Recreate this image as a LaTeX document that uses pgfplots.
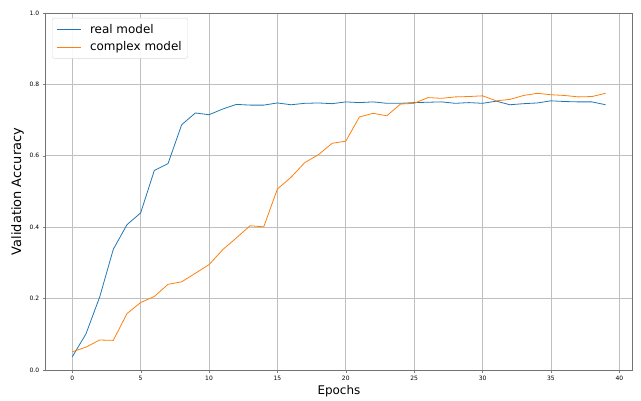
\documentclass[border=0pt]{standalone}
\usepackage{pgfplots}
\pgfplotsset{compat=1.18}
\usepackage{fontspec}
\setmainfont{DejaVu Sans}
\definecolor{c0}{HTML}{1F77B4}
\definecolor{c1}{HTML}{FF7F0E}
\begin{document}
\begin{tikzpicture}
\useasboundingbox (-45.6bp,-31bp) rectangle (595.4bp,370bp);
\begin{axis}[
  at={(0,0)}, anchor=south west,
  scale only axis, width=586.7bp, height=357bp,
  xmin=-1.95, xmax=40.95, ymin=0, ymax=1,
  xtick={0,5,...,40}, ytick={0,0.2,...,1.0},
  yticklabel style={/pgf/number format/.cd,fixed,fixed zerofill,precision=1},
  /pgf/number format/assume math mode=true,
  tick label style={font=\fontsize{6}{7}\selectfont},
  tick align=outside, tick pos=left,
  major tick length=3bp,
  grid=major, major grid style={color=black!25, line width=0.6pt},
  axis line style={color=black!55, line width=0.8pt},
  xlabel={Epochs}, ylabel={Validation Accuracy},
  xlabel style={font=\fontsize{12}{14}\selectfont, yshift=2bp},
  ylabel style={font=\fontsize{13}{15}\selectfont, yshift=-1bp},
  legend style={font=\fontsize{12}{14}\selectfont, draw=black!15, rounded corners=2pt, fill=white, fill opacity=0.9, text opacity=1, at={(0.011,0.986)}, anchor=north west, inner xsep=4bp, inner ysep=4bp, row sep=3bp},
  legend cell align=left,
  legend image code/.code={\draw[#1, line width=0.8pt] (0bp,0bp) -- (24bp,0bp); \path (31bp,0bp);},
  every axis plot/.append style={line width=0.8pt},
]
\addplot[c0, mark=none] coordinates {
(0,0.037)(1,0.101)(2,0.204)(3,0.338)(4,0.407)(5,0.440)(6,0.559)(7,0.578)(8,0.687)(9,0.720)
(10,0.715)(11,0.731)(12,0.744)(13,0.742)(14,0.742)(15,0.748)(16,0.743)(17,0.747)(18,0.748)(19,0.746)
(20,0.751)(21,0.749)(22,0.751)(23,0.747)(24,0.747)(25,0.749)(26,0.750)(27,0.751)(28,0.747)(29,0.749)
(30,0.747)(31,0.753)(32,0.743)(33,0.746)(34,0.748)(35,0.754)(36,0.752)(37,0.751)(38,0.751)(39,0.743)
};
\addlegendentry{real model}
\addplot[c1, mark=none] coordinates {
(0,0.051)(1,0.064)(2,0.084)(3,0.083)(4,0.158)(5,0.189)(6,0.206)(7,0.240)(8,0.247)(9,0.271)
(10,0.295)(11,0.337)(12,0.370)(13,0.404)(14,0.401)(15,0.507)(16,0.540)(17,0.581)(18,0.603)(19,0.635)
(20,0.641)(21,0.709)(22,0.719)(23,0.712)(24,0.745)(25,0.747)(26,0.763)(27,0.761)(28,0.765)(29,0.766)
(30,0.768)(31,0.754)(32,0.758)(33,0.769)(34,0.775)(35,0.771)(36,0.769)(37,0.765)(38,0.766)(39,0.775)
};
\addlegendentry{complex model}
\end{axis}
\end{tikzpicture}
\end{document}
